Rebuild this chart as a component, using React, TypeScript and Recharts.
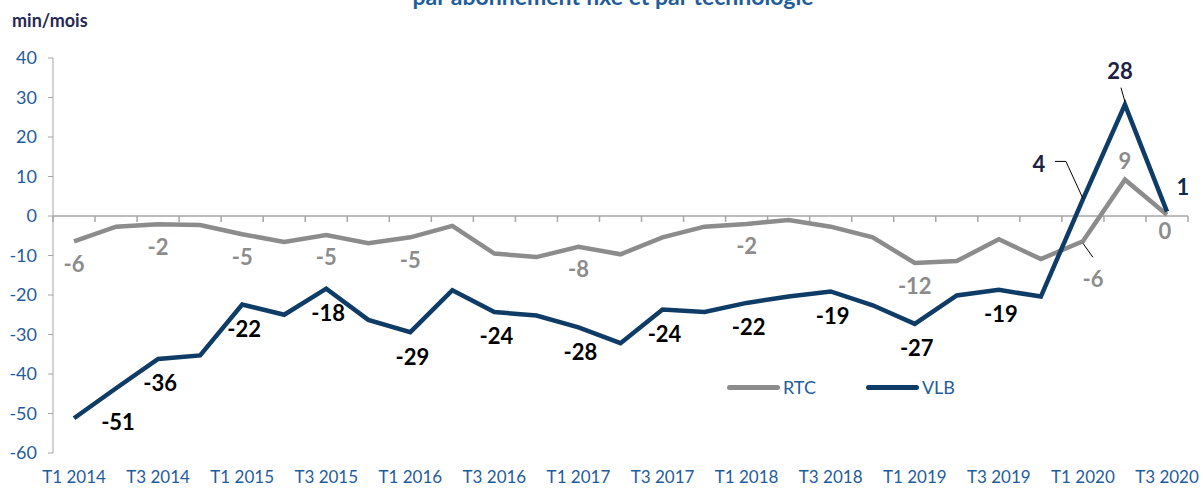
import {
  LineChart,
  Line,
  XAxis,
  YAxis,
  ReferenceLine,
  LabelList,
  Legend,
} from "recharts"

const quarters = [
  "T1 2014", "T2 2014", "T3 2014", "T4 2014",
  "T1 2015", "T2 2015", "T3 2015", "T4 2015",
  "T1 2016", "T2 2016", "T3 2016", "T4 2016",
  "T1 2017", "T2 2017", "T3 2017", "T4 2017",
  "T1 2018", "T2 2018", "T3 2018", "T4 2018",
  "T1 2019", "T2 2019", "T3 2019", "T4 2019",
  "T1 2020", "T2 2020", "T3 2020",
]

const rtc = [
  -6.4, -2.7, -2.1, -2.3, -4.6, -6.6, -4.8, -6.9, -5.4, -2.5, -9.5, -10.4,
  -7.8, -9.7, -5.4, -2.7, -2.0, -1.0, -2.7, -5.4, -11.9, -11.4, -5.9, -10.9,
  -6.4, 9.2, 0.3,
]

const vlb = [
  -51.2, -43.6, -36.2, -35.3, -22.4, -25.0, -18.4, -26.3, -29.4, -18.8, -24.3,
  -25.2, -28.2, -32.2, -23.7, -24.3, -22.0, -20.4, -19.1, -22.6, -27.3, -20.1,
  -18.7, -20.4, 4.2, 28.2, 1.1,
]

const yTicks = [-60, -50, -40, -30, -20, -10, 0, 10, 20, 30, 40]
const xTicks = [0, 2, 4, 6, 8, 10, 12, 14, 16, 18, 20, 22, 24, 26]

// which points carry a data label
const rtcLabelled = [0, 2, 4, 6, 8, 12, 16, 20, 24, 25, 26]
const vlbLabelled = [0, 2, 4, 6, 8, 10, 12, 14, 16, 18, 20, 22, 24, 25, 26]

const data = quarters.map((q, i) => ({ i, q, rtc: rtc[i], vlb: vlb[i] }))
const boundaries = [...quarters.map((_, i) => i - 0.5), quarters.length - 0.5]

const FONT = "Lato, 'Open Sans', sans-serif"
const GRAY = "#8c8c8c"
const NAVY = "#0e3c66"
const AXIS = "#a6a6a6"
const TICK = "#1f5c9c"

function rtcLabel(props: any) {
  const { x, y, value, index } = props
  if (!rtcLabelled.includes(index)) return null
  let dx = 0
  let dy = 22
  let leader = null
  if (index === 24) {
    dx = 10
    dy = 37
    leader = (
      <polyline
        points={`${x},${y + 2} ${x + 10},${y + 16}`}
        fill="none"
        stroke="#000"
        strokeWidth={1}
      />
    )
  } else if (index === 25) {
    dy = -19
  } else if (index === 26) {
    dx = -2
    dy = 16
  }
  return (
    <g>
      {leader}
      <text
        x={x + dx}
        y={y + dy}
        textAnchor="middle"
        dominantBaseline="central"
        fill={GRAY}
        fontFamily={FONT}
        fontWeight={700}
        fontSize={22}
      >
        {Math.round(value)}
      </text>
    </g>
  )
}

function vlbLabel(props: any) {
  const { x, y, value, index } = props
  if (!vlbLabelled.includes(index)) return null
  let dx = 2
  let dy = 24
  let color = "#000"
  let leader = null
  if (index === 0) {
    dx = 44
    dy = 3
  } else if (index === 24) {
    dx = -44
    dy = -36
    color = "#1c2242"
    leader = (
      <polyline
        points={`${x - 28},${y - 38} ${x - 17},${y - 38} ${x},${y - 1}`}
        fill="none"
        stroke="#000"
        strokeWidth={1}
      />
    )
  } else if (index === 25) {
    dx = -5
    dy = -34
    color = "#1c2242"
    leader = (
      <line x1={x - 4} y1={y - 17} x2={x} y2={y - 3} stroke="#000" strokeWidth={1} />
    )
  } else if (index === 26) {
    dx = 16
    dy = -25
    color = "#0e2c50"
  }
  return (
    <g>
      {leader}
      <text
        x={x + dx}
        y={y + dy}
        textAnchor="middle"
        dominantBaseline="central"
        fill={color}
        fontFamily={FONT}
        fontWeight={700}
        fontSize={22}
      >
        {Math.round(value)}
      </text>
    </g>
  )
}

function LegendBox(props: any) {
  const { payload } = props
  return (
    <div style={{ display: "flex", alignItems: "center", fontFamily: FONT }}>
      {(payload || []).map((p: any) => (
        <div
          key={p.value}
          style={{ display: "flex", alignItems: "center", marginRight: 50 }}
        >
          <span
            style={{
              width: 53,
              height: 5,
              borderRadius: 3,
              background: p.color,
              display: "inline-block",
            }}
          />
          <span style={{ color: TICK, fontSize: 18, marginLeft: 3 }}>
            {p.value}
          </span>
        </div>
      ))}
    </div>
  )
}

export default function App() {
  return (
    <div
      style={{
        position: "absolute",
        left: 0,
        top: 0,
        width: 1203,
        height: 488,
        background: "#fff",
        overflow: "hidden",
        fontFamily: FONT,
      }}
    >
      {/* title, cut off at the top like the source */}
      <div
        style={{
          position: "absolute",
          left: 0,
          width: 1226,
          top: -15,
          textAlign: "center",
          fontSize: 23,
          lineHeight: "23px",
          fontWeight: 700,
          color: "#1f5c99",
        }}
      >
        par abonnement fixe et par technologie
      </div>

      {/* unit */}
      <div
        style={{
          position: "absolute",
          left: 12,
          top: 9,
          fontSize: 18,
          fontWeight: 700,
          color: "#272753",
        }}
      >
        min/mois
      </div>

      <LineChart
        width={1203}
        height={488}
        data={data}
        margin={{ top: 58, right: 15, bottom: 5, left: 0 }}
      >
        <XAxis
          type="number"
          dataKey="i"
          domain={[-0.5, 26.5]}
          ticks={xTicks}
          interval={0}
          tickFormatter={(v: number) => quarters[v]}
          axisLine={false}
          tickLine={false}
          tickSize={0}
          tickMargin={18}
          height={30}
          tick={{ fill: TICK, fontSize: 17, fontFamily: FONT }}
        />
        <YAxis
          domain={[-60, 40]}
          ticks={yTicks}
          interval={0}
          width={53}
          tickSize={5}
          tickMargin={11}
          stroke={AXIS}
          tick={{ fill: TICK, fontSize: 18, fontFamily: FONT }}
        />
        <ReferenceLine y={0} stroke={AXIS} strokeWidth={1.5} />
        {boundaries.map((b) => (
          <ReferenceLine
            key={b}
            segment={[
              { x: b, y: 0 },
              { x: b, y: -1.5 },
            ]}
            stroke={AXIS}
            strokeWidth={1.5}
          />
        ))}
        <Legend
          layout="horizontal"
          verticalAlign="middle"
          align="center"
          content={<LegendBox />}
          wrapperStyle={{ position: "absolute", left: 727, top: 376, width: 300 }}
        />
        <Line
          name="RTC"
          dataKey="rtc"
          stroke={GRAY}
          strokeWidth={4.5}
          dot={false}
          isAnimationActive={false}
        >
          <LabelList dataKey="rtc" content={rtcLabel} />
        </Line>
        <Line
          name="VLB"
          dataKey="vlb"
          stroke={NAVY}
          strokeWidth={4.5}
          dot={false}
          isAnimationActive={false}
        >
          <LabelList dataKey="vlb" content={vlbLabel} />
        </Line>
      </LineChart>
    </div>
  )
}
